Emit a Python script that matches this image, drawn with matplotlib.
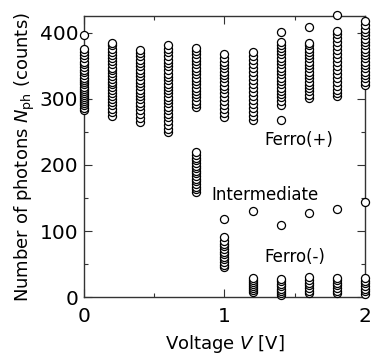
import matplotlib
matplotlib.use("Agg")
import matplotlib.pyplot as plt
from matplotlib.ticker import MultipleLocator

voltages = [0.0, 0.2, 0.4, 0.6, 0.8, 1.0, 1.2, 1.4, 1.6, 1.8, 2.0]

# Ferro(+) state counts
ferro_plus = [
    [283, 286, 290, 293, 297, 300, 303, 306, 309, 312, 315, 318, 322, 325,
     329, 332, 336, 340, 344, 348, 352, 356, 361, 366, 371, 375, 397],
    [274, 280, 285, 290, 295, 300, 304, 309, 313, 318, 322, 326, 330, 334,
     339, 343, 347, 352, 357, 362, 366, 371, 376, 381, 385],
    [265, 271, 277, 283, 289, 294, 299, 304, 309, 314, 319, 324, 329, 334,
     339, 344, 349, 354, 359, 364, 369, 373],
    [250, 255, 261, 266, 272, 277, 283, 288, 293, 298, 303, 308, 313, 318,
     323, 328, 333, 338, 344, 349, 354, 359, 364, 370, 375, 382],
    [288, 292, 297, 302, 307, 312, 317, 322, 327, 332, 337, 342, 347, 352,
     357, 362, 367, 372, 377],
    [273, 279, 285, 291, 297, 303, 309, 315, 320, 326, 331, 336, 341, 346,
     351, 356, 361, 367],
    [268, 274, 280, 286, 292, 298, 304, 310, 316, 322, 328, 334, 340, 346,
     352, 358, 364, 370],
    [268, 291, 296, 302, 307, 312, 317, 322, 327, 332, 337, 342, 347, 352,
     357, 362, 367, 372, 377, 382, 386, 401],
    [301, 306, 311, 316, 321, 326, 331, 336, 341, 346, 351, 356, 361, 366,
     371, 376, 381, 385, 409],
    [304, 309, 314, 320, 326, 332, 338, 344, 350, 356, 362, 368, 374, 380,
     386, 392, 398, 403, 426],
    [321, 326, 331, 336, 341, 346, 351, 356, 361, 366, 371, 376, 381, 386,
     391, 396, 401, 406, 411, 417],
]

# intermediate state counts
intermediate = [
    [], [], [], [],
    [159, 163, 167, 171, 175, 179, 183, 187, 191, 195, 199, 203, 207, 211,
     215, 220],
    [118, 45, 49, 53, 57, 61, 65, 69, 73, 77, 81, 85, 91],
    [130], [109], [127], [133], [144],
]

# Ferro(-) state counts
ferro_minus = [
    [], [], [], [], [], [],
    [8, 11, 14, 17, 20, 23, 26, 29],
    [3, 7, 10, 13, 17, 20, 24, 28],
    [6, 10, 14, 18, 22, 26, 30],
    [6, 10, 14, 18, 22, 26, 29],
    [5, 9, 13, 17, 21, 25, 29],
]

fig = plt.figure(figsize=(3.71, 3.58), dpi=100)
ax = fig.add_axes([0.226, 0.170, 0.758, 0.785])

for groups in (ferro_plus, intermediate, ferro_minus):
    for v, ys in zip(voltages, groups):
        if not ys:
            continue
        ax.plot([v] * len(ys), ys, "o", ms=5.8, mfc="white", mec="black",
                mew=0.9, clip_on=False, zorder=3)

ax.set_xlim(0, 2)
ax.set_ylim(0, 425)
ax.xaxis.set_major_locator(MultipleLocator(1))
ax.xaxis.set_minor_locator(MultipleLocator(0.5))
ax.yaxis.set_major_locator(MultipleLocator(100))
ax.yaxis.set_minor_locator(MultipleLocator(50))
ax.tick_params(which="both", direction="in", top=True, right=True,
               labelsize=14.5, color="#333333", width=0.8)
ax.tick_params(which="major", length=6)
ax.tick_params(which="minor", length=3)
ax.tick_params(axis="x", pad=7)
ax.tick_params(axis="y", pad=4)
for s in ax.spines.values():
    s.set_color("#333333")
    s.set_linewidth(1.0)

ax.set_xlabel("Voltage $V$ [V]", fontsize=13, labelpad=5)
ax.set_ylabel(r"Number of photons $N_{\mathrm{ph}}$ (counts)", fontsize=13,
              labelpad=2)

ax.text(1.286, 238, "Ferro(+)", fontsize=12, va="center", ha="left")
ax.text(0.907, 155, "Intermediate", fontsize=12, va="center", ha="left")
ax.text(1.286, 61, "Ferro(-)", fontsize=12, va="center", ha="left")

fig.savefig("out.png", dpi=100)
